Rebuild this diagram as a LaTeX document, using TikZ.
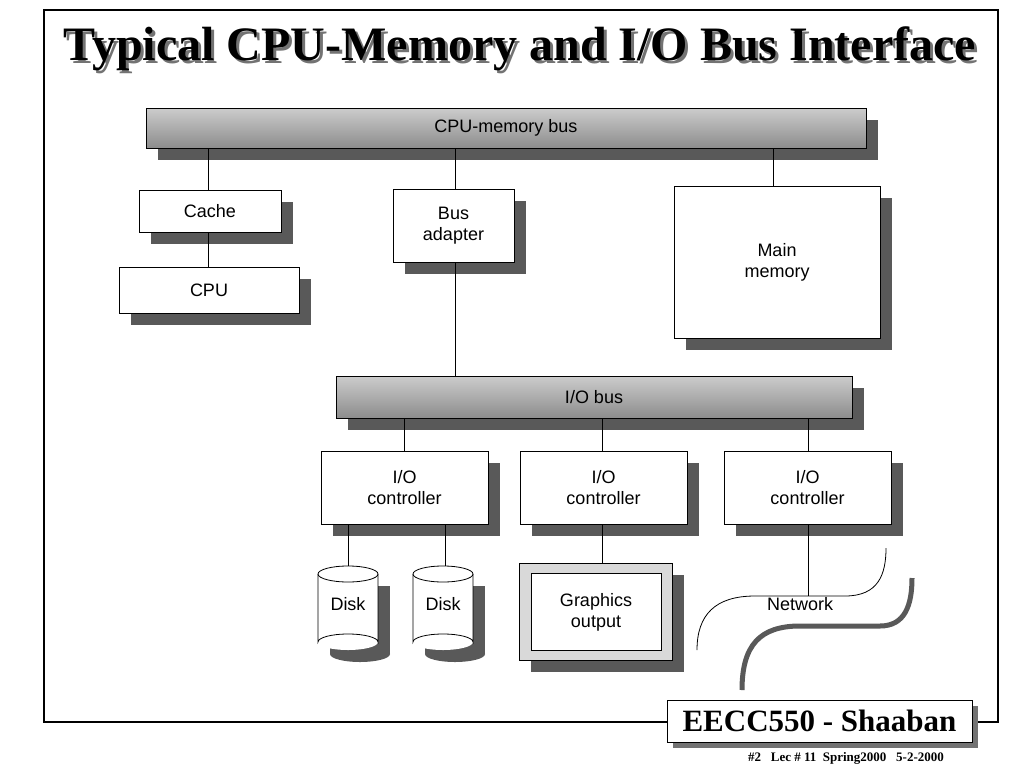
\documentclass[tikz,border=0pt]{standalone}
\usepackage{fontspec}
\setmainfont{Liberation Sans}
\newfontfamily\tms{Liberation Serif}
\usetikzlibrary{shapes.geometric}
\begin{document}
\begin{tikzpicture}[x=1pt,y=-1pt,
 box/.style={draw=black,fill=white,line width=0.8pt},
 shd/.style={fill=black!65},
 bus/.style={draw=black,line width=0.8pt,top color=black!20,bottom color=black!45},
 lbl/.style={font=\fontsize{18}{21}\selectfont,align=center},
 ln/.style={line width=0.8pt}]
\useasboundingbox (0,0) rectangle (1024,768);
\fill[white] (0,0) rectangle (1024,768);
% frame
\draw[line width=2pt] (667,722) -- (44,722) -- (44,10) -- (998,10) -- (998,722) -- (972,722);
% title
\node[font=\tms\bfseries\fontsize{48}{52}\selectfont] (title) at (520,50) {\rlap{\textcolor{black!55}{\kern3pt\raisebox{-3pt}{Typical CPU-Memory and I/O Bus Interface}}}Typical CPU-Memory and I/O Bus Interface};
% footer
\fill[black!55] (673,706) rectangle (978,748);
\draw[line width=1pt,fill=white] (667,700) rectangle (972,742);
\node[font=\tms\bfseries\fontsize{31}{34}\selectfont] (foot) at (819.5,721) {EECC550 - Shaaban};
\node[font=\tms\bfseries\fontsize{13}{15}\selectfont] (foot2) at (846,758) {\#2\ \ \ Lec \# 11\ \ Spring2000\ \ \ 5-2-2000};
% shadows
\foreach \a/\b/\c/\d in {146/108/866/148, 139/190/281/232, 119/267/299/313, 393/189/514/262, 674/186/880/338, 336/376/852/418, 321/451/488/524, 520/451/687/524, 724/451/891/524, 519/563/672/660}
 \fill[shd] (\a+12,\b+12) rectangle (\c+12,\d+12);
% connectors
\draw[ln] (208,148) -- (208,190);
\draw[ln] (208,232) -- (208,267);
\draw[ln] (455,148) -- (455,189);
\draw[ln] (455,262) -- (455,376);
\draw[ln] (773,148) -- (773,186);
\draw[ln] (404,418) -- (404,451);
\draw[ln] (602,418) -- (602,451);
\draw[ln] (808,418) -- (808,451);
\draw[ln] (348,524) -- (348,572);
\draw[ln] (445,524) -- (445,572);
\draw[ln] (602,524) -- (602,563);
\draw[ln] (808,524) -- (808,596);
% boxes
\node[bus,minimum width=720pt,minimum height=40pt,lbl] (cmb) at (506,128) {CPU-memory bus};
\node[box,minimum width=142pt,minimum height=42pt,lbl] (cache) at (210,211) {Cache};
\node[box,minimum width=180pt,minimum height=46pt,lbl] (cpu) at (209,290) {CPU};
\node[box,minimum width=121pt,minimum height=73pt,lbl] (ba) at (453.5,225.5) {Bus\\adapter};
\node[box,minimum width=206pt,minimum height=152pt,lbl] (mm) at (777,262) {Main\\memory};
\node[bus,minimum width=516pt,minimum height=42pt,lbl] (iob) at (594,397) {I/O bus};
\node[box,minimum width=167pt,minimum height=73pt,lbl] (c1) at (404.5,487.5) {I/O\\controller};
\node[box,minimum width=167pt,minimum height=73pt,lbl] (c2) at (603.5,487.5) {I/O\\controller};
\node[box,minimum width=167pt,minimum height=73pt,lbl] (c3) at (807.5,487.5) {I/O\\controller};
% disks
\foreach \x/\n in {348/d1,443/d2}{
 \fill[shd] (\x-30+12,574+12) rectangle (\x+30+12,642+12);
 \fill[shd] (\x+12,642+12) ellipse (30 and 8);
 \fill[white] (\x-30,574) rectangle (\x+30,642);
 \fill[white] (\x,642) ellipse (30 and 8);
 \draw[ln] (\x-30,574) -- (\x-30,642) arc (180:360:30 and 8) -- (\x+30,574);
 \draw[ln,fill=white] (\x,574) ellipse (30 and 8);
 \node[lbl] (\n) at (\x,604) {Disk};
}
% graphics
\draw[ln,fill=black!15] (519,563) rectangle (672,660);
\draw[ln,fill=white] (531,573) rectangle (661,650);
\node[lbl] (gfx) at (596,612) {Graphics\\output};
% network
\draw[line width=5pt,black!65] (742,690) .. controls (742,645) and (760,626) .. (800,626) -- (880,626) .. controls (905,626) and (912,605) .. (912,578);
\draw[ln] (697,650) .. controls (697,615) and (715,596) .. (755,596) -- (845,596) .. controls (878,596) and (886,575) .. (886,548);
\node[lbl] (net) at (800,604) {Network};
\end{tikzpicture}
\end{document}
